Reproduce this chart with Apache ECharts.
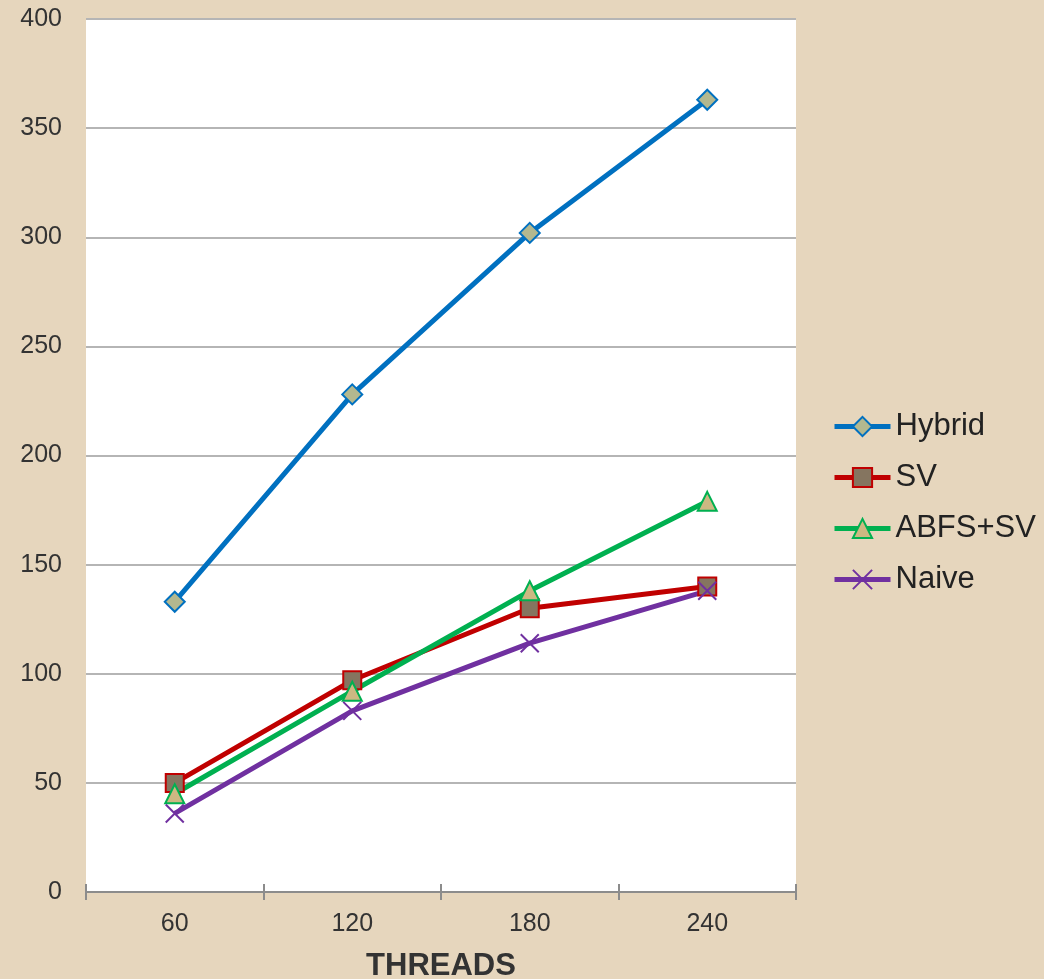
<!DOCTYPE html>
<html>
<head>
<meta charset="utf-8">
<script src="https://cdn.jsdelivr.net/npm/echarts@6/dist/echarts.min.js"></script>
<style>
  html, body { margin: 0; padding: 0; background: #E6D6BD; }
  #chart { width: 1044px; height: 979px; }
</style>
</head>
<body>
<div id="chart"></div>
<script>
// Thread counts on the x axis
const threads = ['60', '120', '180', '240'];

// Values per algorithm
const hybrid = [133, 228, 302, 363];
const sv = [50, 97, 130, 140];
const abfsSv = [45, 92, 138, 179];
const naive = [36, 83, 114, 138];

const font = 'Liberation Sans, Arial, sans-serif';
const crossPath = 'path://M0,0L10,10M10,0L0,10';

const chart = echarts.init(document.getElementById('chart'));

chart.setOption({
  backgroundColor: '#E6D6BD',
  animation: false,
  grid: {
    left: 86, top: 19, right: 248, bottom: 87,
    outerBoundsMode: 'none', containLabel: false,
    show: true, backgroundColor: '#FFFFFF', borderWidth: 0
  },
  legend: {
    orient: 'vertical',
    left: 827,
    top: 406,
    itemWidth: 56,
    itemHeight: 24,
    itemGap: 20,
    lineStyle: { width: 5 },
    textStyle: { fontFamily: font, fontSize: 31, color: '#222' },
    data: ['Hybrid', 'SV', 'ABFS+SV', 'Naive']
  },
  xAxis: [{
    type: 'category',
    data: threads,
    boundaryGap: true,
    name: 'THREADS',
    nameLocation: 'middle',
    nameGap: 59,
    nameTextStyle: { fontFamily: font, fontSize: 31, fontWeight: 'bold', color: '#333' },
    axisLine: { lineStyle: { color: '#8c8c8c', width: 2 } },
    axisTick: { show: true, length: 8, lineStyle: { color: '#8c8c8c', width: 2 } },
    axisLabel: { fontFamily: font, fontSize: 25, color: '#333', margin: 20 },
    splitLine: { show: false }
  }, {
    type: 'category',
    data: threads,
    position: 'bottom',
    boundaryGap: true,
    axisLine: { show: false },
    axisTick: { show: true, inside: true, length: 8, lineStyle: { color: '#8c8c8c', width: 2 } },
    axisLabel: { show: false },
    splitLine: { show: false }
  }],
  yAxis: {
    type: 'value',
    min: 0,
    max: 400,
    interval: 50,
    axisLine: { show: false },
    axisTick: { show: false },
    axisLabel: { fontFamily: font, fontSize: 25, color: '#333', margin: 24 },
    splitLine: { lineStyle: { color: '#b5b5b5', width: 2 } }
  },
  series: [
    {
      name: 'Hybrid', type: 'line', data: hybrid,
      symbol: 'diamond', symbolSize: 20,
      lineStyle: { color: '#0070C0', width: 5 },
      itemStyle: { color: '#B3B88F', borderColor: '#0070C0', borderWidth: 2 }
    },
    {
      name: 'SV', type: 'line', data: sv,
      symbol: 'rect', symbolSize: 18,
      lineStyle: { color: '#C00000', width: 5 },
      itemStyle: { color: '#857560', borderColor: '#C00000', borderWidth: 2 }
    },
    {
      name: 'ABFS+SV', type: 'line', data: abfsSv,
      symbol: 'triangle', symbolSize: 19,
      lineStyle: { color: '#00B050', width: 5 },
      itemStyle: { color: '#CDB882', borderColor: '#00B050', borderWidth: 2 }
    },
    {
      name: 'Naive', type: 'line', data: naive,
      symbol: crossPath, symbolSize: 18,
      lineStyle: { color: '#7030A0', width: 5 },
      itemStyle: { color: 'none', borderColor: '#7030A0', borderWidth: 2 }
    }
  ]
});
</script>
</body>
</html>
